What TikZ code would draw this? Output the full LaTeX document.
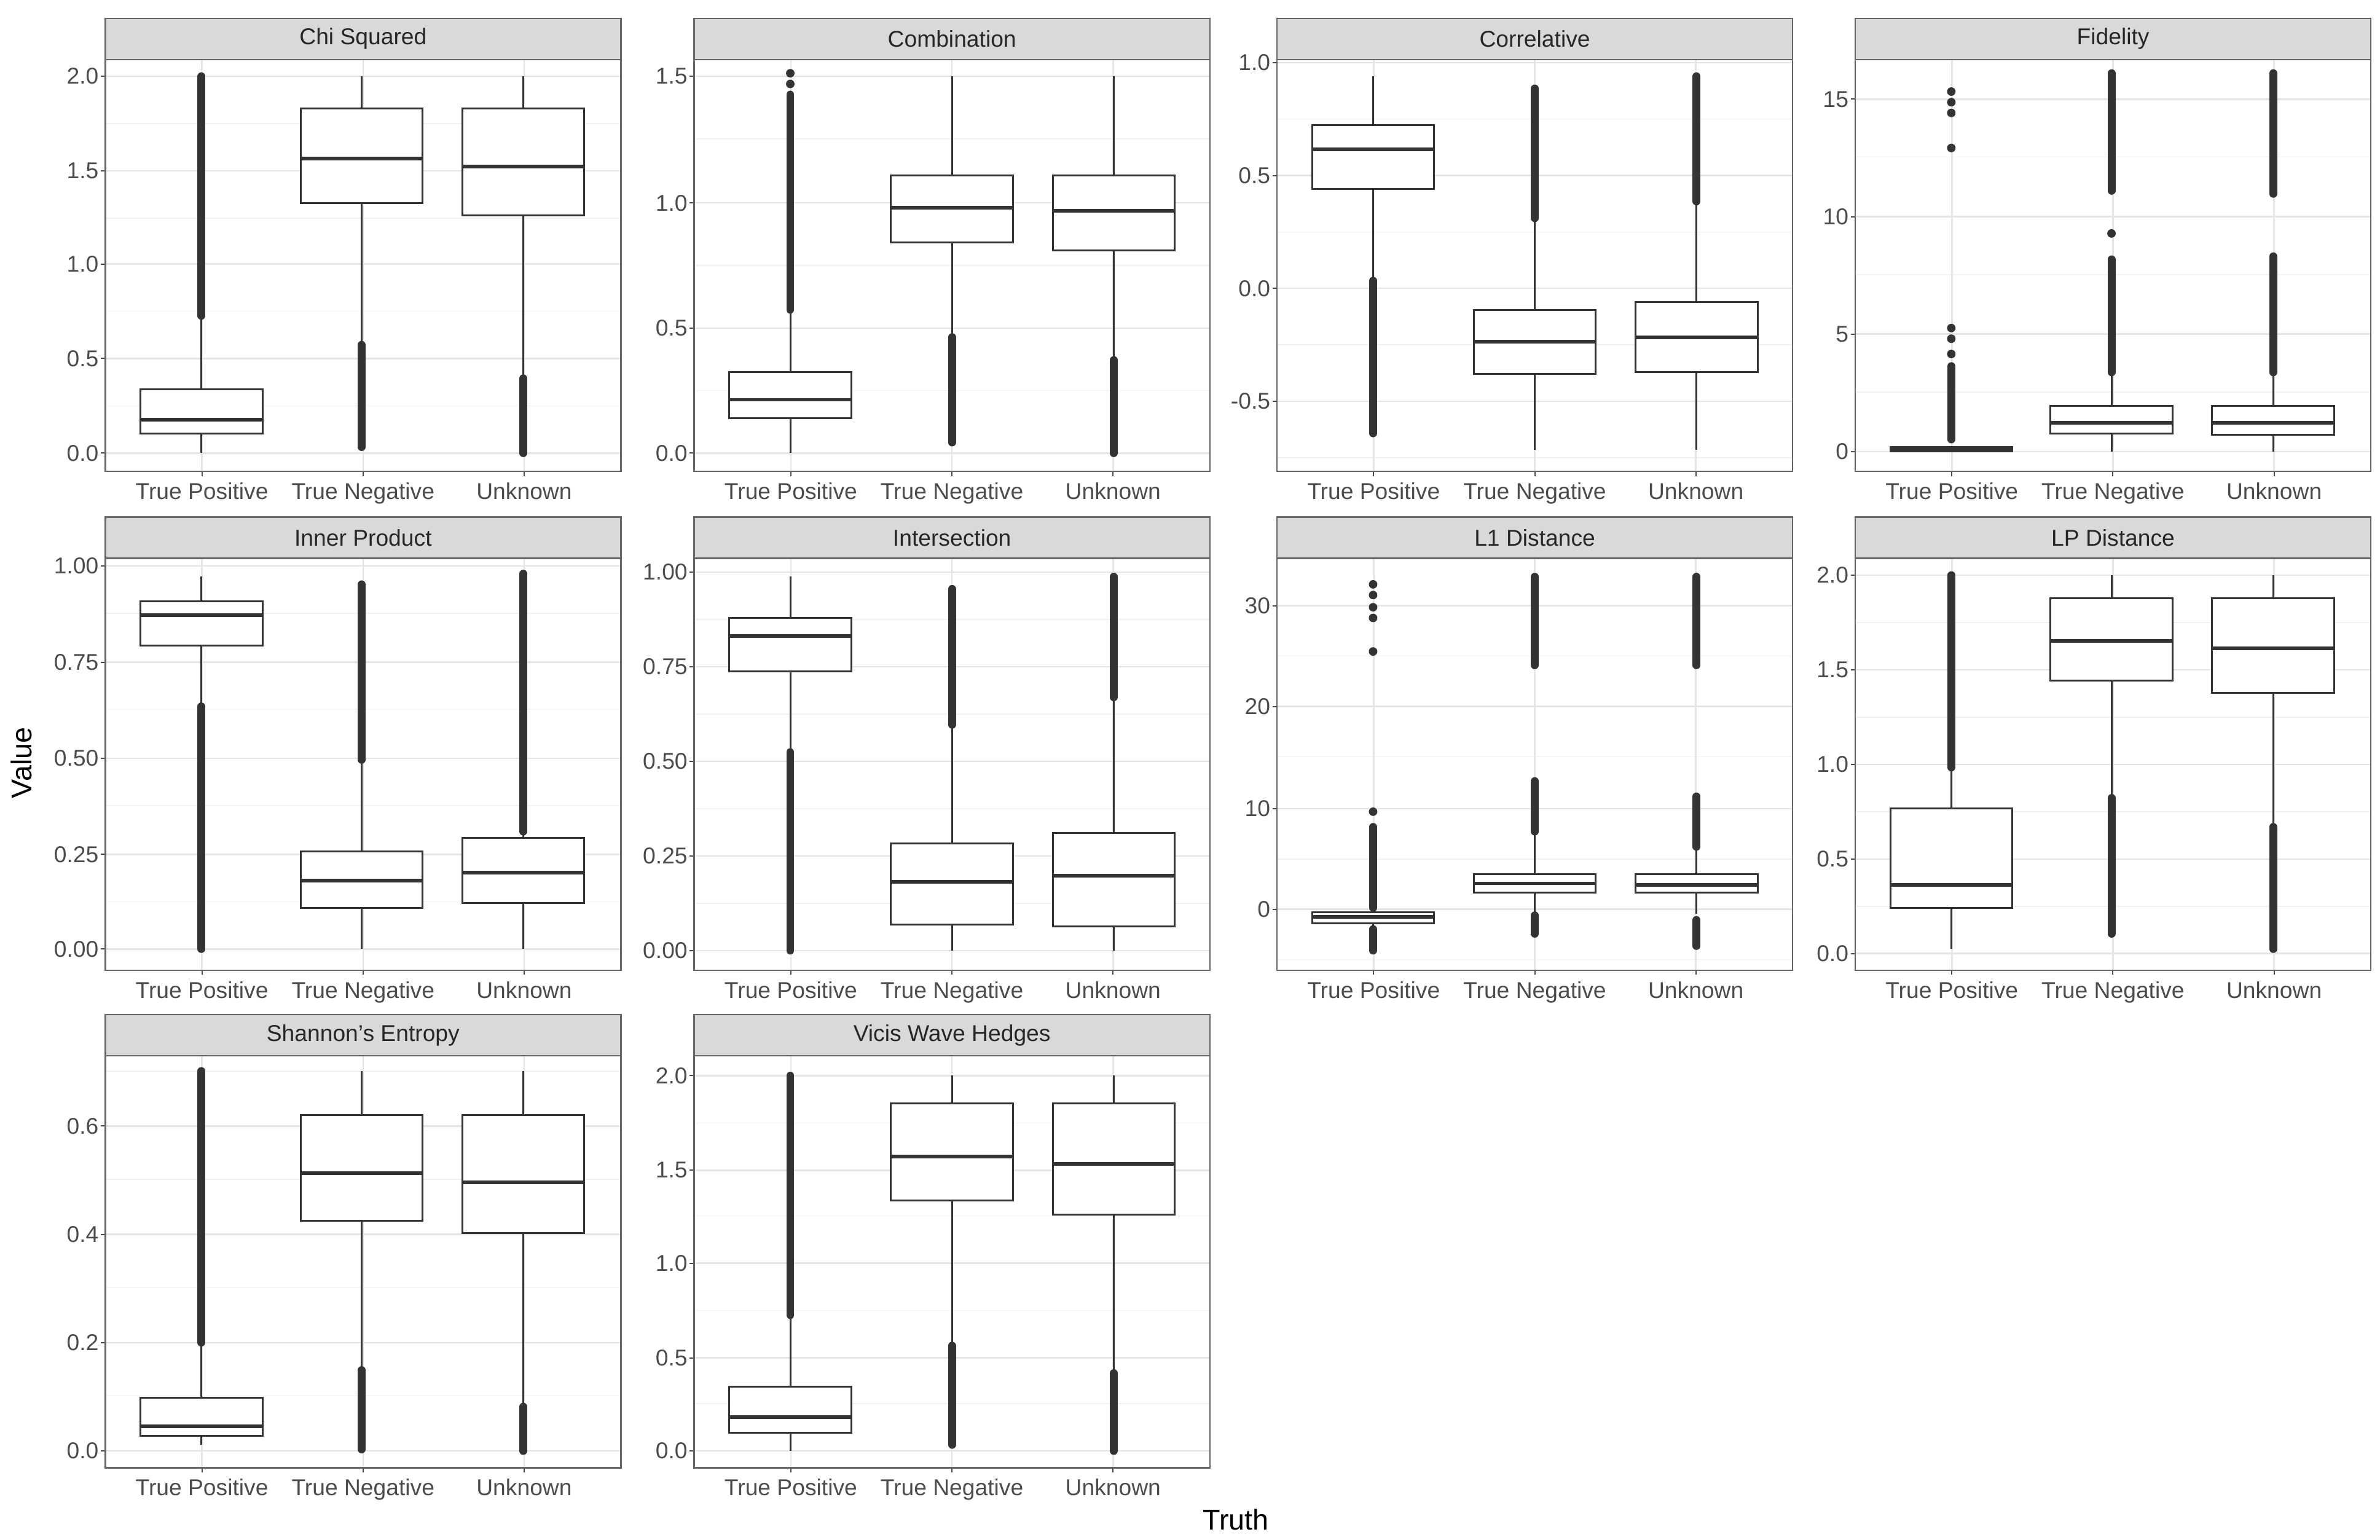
\documentclass[tikz,border=0pt]{standalone}
\usepackage{fontspec}
\setmainfont{Liberation Sans}
\begin{document}
\begin{tikzpicture}[x=0.5pt,y=-0.5pt,
  tk/.style={font=\fontsize{7.5}{8}\selectfont,text=black!70,inner sep=0pt},
  ttl/.style={font=\fontsize{7.5}{8}\selectfont,text=black!85,inner sep=0pt},
  ax/.style={font=\fontsize{9.4}{10}\selectfont,inner sep=0pt},
  majg/.style={draw=black!10,line width=0.5pt},
  ming/.style={draw=black!5,line width=0.3pt},
  bxs/.style={draw=black!80,line width=0.6pt},
  bmed/.style={draw=black!80,line width=1.2pt},
  ols/.style={draw=black!80,line width=2.6pt,line cap=round},
  dts/.style={fill=black!80}]
\useasboundingbox (0,0) rectangle (1560,1009);
% panel: #1 x0, #2 strip top, #3 name, #4 title, #5 ticks pos/label, #6 minors
\newcommand\mypanel[6]{%
  \pgfmathsetmacro\pyb{#2+27}\pgfmathsetmacro\pye{#2+297}\pgfmathsetmacro\pxe{#1+338}%
  \foreach \m in {#6} \draw[ming] (#1,\m) -- (\pxe,\m);
  \foreach \p/\l in {#5} {\draw[majg] (#1,\p) -- (\pxe,\p);
    \node[tk,anchor=east] at (#1-4,\p) {\l};
    \draw[black!70,line width=0.4pt] (#1-3,\p) -- (#1,\p);}
  \foreach \c/\l in {0.6/True Positive,1.6/True Negative,2.6/Unknown} {%
    \pgfmathsetmacro\cx{#1+\c*105.6}%
    \draw[majg] (\cx,\pyb) -- (\cx,\pye);
    \draw[black!70,line width=0.4pt] (\cx,\pye) -- (\cx,\pye+3);
    \node[tk,anchor=north] at (\cx,\pye+7) {\l};}
  \draw[black!60,fill=black!15,line width=0.5pt] (#1,#2) rectangle (\pxe,\pyb);
  \node[ttl] (#3) at (#1+169,#2+13.5) {#4};
  \draw[black!60,line width=0.5pt] (#1,\pyb) rectangle (\pxe,\pye);
}
% box: #1 xc, #2 q3, #3 q1, #4 med, #5 whisker top, #6 whisker bottom
\newcommand\bx[6]{%
  \draw[bxs] (#1,#5) -- (#1,#2) (#1,#3) -- (#1,#6);
  \draw[bxs,fill=white] (#1-40,#2) rectangle (#1+40,#3);
  \draw[bmed] (#1-40,#4) -- (#1+40,#4);}
\newcommand\ol[3]{\draw[ols] (#1,#2) -- (#1,#3);}
\newcommand\dt[2]{\fill[dts] (#1,#2) circle (2.8);}
% Row 1
\mypanel{69}{12}{pa}{Chi Squared}{50/2.0,112/1.5,173/1.0,235/0.5,297/0.0}{81,143,204,266}
\ol{132}{50}{207}\bx{132}{255}{284}{275}{207}{297}
\ol{237}{226}{293}\bx{237}{71}{133}{104}{50}{226}
\ol{343}{248}{297}\bx{343}{71}{141}{109}{50}{248}
\mypanel{455}{12}{pb}{Combination}{50/1.5,133/1.0,215/0.5,297/0.0}{91,174,256}
\ol{518}{203}{62}\dt{518}{48}\dt{518}{55}\bx{518}{244}{274}{262}{203}{297}
\ol{624}{221}{290}\bx{624}{115}{159}{136}{50}{221}
\ol{730}{236}{297}\bx{730}{115}{164}{138}{50}{236}
\mypanel{837}{12}{pc}{Correlative}{41/1.0,115/0.5,189/0.0,263/-0.5}{78,152,226,300}
\ol{900}{184}{284}\bx{900}{82}{124}{98}{50}{184}
\ol{1006}{143}{58}\bx{1006}{203}{245}{224}{143}{295}
\ol{1112}{132}{50}\bx{1112}{198}{244}{221}{132}{295}
\mypanel{1216}{12}{pd}{Fidelity}{65/15,142/10,219/5,296/0}{103,180,257}
\ol{1279}{288}{240}\dt{1279}{232}\dt{1279}{222}\dt{1279}{215}\dt{1279}{97}\dt{1279}{74}\dt{1279}{67}\dt{1279}{60}
\bx{1279}{293}{296}{295}{293}{296}
\ol{1384}{244}{170}\dt{1384}{153}\ol{1384}{125}{48}\bx{1384}{266}{284}{277}{244}{296}
\ol{1490}{244}{168}\ol{1490}{127}{48}\bx{1490}{266}{285}{277}{244}{296}
% Row 2
\mypanel{69}{339}{pe}{Inner Product}{371/1.00,434/0.75,497/0.50,560/0.25,622/0.00}{402,465,528,591}
\ol{132}{463}{622}\bx{132}{394}{423}{403}{378}{463}
\ol{237}{498}{383}\bx{237}{558}{595}{577}{498}{622}
\ol{343}{545}{376}\bx{343}{549}{592}{572}{545}{622}
\mypanel{455}{339}{pf}{Intersection}{375/1.00,437/0.75,499/0.50,561/0.25,623/0.00}{406,468,530,592}
\ol{518}{493}{623}\bx{518}{405}{440}{417}{378}{493}
\ol{624}{475}{386}\bx{624}{553}{606}{578}{475}{623}
\ol{730}{457}{378}\bx{730}{546}{607}{574}{457}{623}
\mypanel{837}{339}{pg}{L1 Distance}{397/30,463/20,530/10,596/0}{430,496,563,629}
\ol{900}{595}{542}\dt{900}{532}\ol{900}{609}{623}\dt{900}{427}\dt{900}{405}\dt{900}{398}\dt{900}{390}\dt{900}{383}
\bx{900}{598}{605}{601}{595}{609}
\ol{1006}{545}{512}\ol{1006}{600}{612}\ol{1006}{378}{436}\bx{1006}{573}{585}{579}{545}{598}
\ol{1112}{555}{522}\ol{1112}{603}{620}\ol{1112}{378}{436}\bx{1112}{573}{585}{580}{555}{599}
\mypanel{1216}{339}{ph}{LP Distance}{377/2.0,439/1.5,501/1.0,563/0.5,625/0.0}{408,470,532,594}
\ol{1279}{503}{377}\bx{1279}{530}{595}{580}{503}{622}
\ol{1384}{523}{612}\bx{1384}{392}{446}{420}{377}{523}
\ol{1490}{542}{622}\bx{1490}{392}{454}{425}{377}{542}
% Row 3
\mypanel{69}{665}{pi}{Shannon's Entropy}{738/0.6,809/0.4,880/0.2,951/0.0}{702,773,844,915}
\ol{132}{880}{702}\bx{132}{916}{941}{935}{880}{947}
\ol{237}{898}{950}\bx{237}{731}{800}{769}{702}{898}
\ol{343}{922}{951}\bx{343}{731}{808}{775}{702}{922}
\mypanel{455}{665}{pj}{Vicis Wave Hedges}{705/2.0,767/1.5,828/1.0,890/0.5,951/0.0}{736,797,859,920}
\ol{518}{862}{705}\bx{518}{909}{939}{929}{862}{951}
\ol{624}{882}{947}\bx{624}{723}{787}{758}{705}{882}
\ol{730}{900}{951}\bx{730}{723}{796}{763}{705}{900}
% axis titles
\node[ax,rotate=90] (yl) at (14,500) {Value};
\node[ax] (xl) at (810,996) {Truth};
\end{tikzpicture}
\end{document}
